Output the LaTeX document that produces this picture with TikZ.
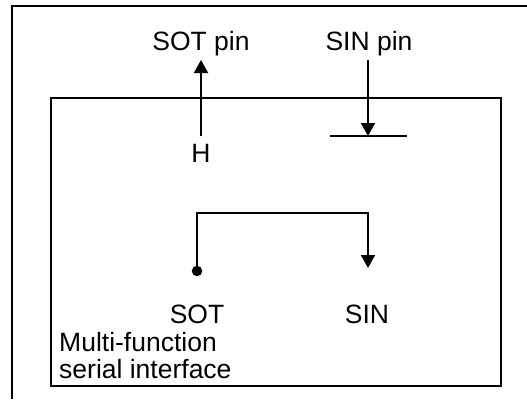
\documentclass[tikz,border=0pt]{standalone}
\usepackage{fontspec}
\setmainfont{Liberation Sans}
\usetikzlibrary{arrows.meta}
\begin{document}
\begin{tikzpicture}[
  x=1pt, y=-1pt,
  every node/.style={font=\fontsize{26.5}{31}\selectfont, inner sep=0pt},
  frameline/.style={line width=2.4pt},
  sigline/.style={line width=2pt, -{Triangle[width=14pt,length=13pt]}},
  pinlabel/.style={anchor=base},
  dotnode/.style={circle, fill, minimum size=10.5pt}
]
\useasboundingbox (0,0) rectangle (527,399);

% Outer frame (open to the right and bottom)
\draw[frameline] (527,6) -- (12,6) -- (12,399);

% Interface block
\draw[line width=2pt] (51,98) rectangle (501,386);

% Pin labels
\node[pinlabel] (sotpin) at (201,50) {SOT pin};
\node[pinlabel] (sinpin) at (369,50) {SIN pin};
\node[pinlabel] (hlvl)   at (201,162) {H};

% SOT pin driven high
\coordinate (sotTail) at (201,136);
\coordinate (sotTip)  at (201,60);
\draw[sigline] (sotTail) -- (sotTip);

% SIN pin input bar
\coordinate (barL) at (330,136);
\coordinate (barR) at (407,136);
\coordinate (sinTop) at (368,60);
\coordinate (sinBar) at (368,136);
\draw[line width=2pt] (barL) -- (barR);
\draw[sigline] (sinTop) -- (sinBar);

% Internal loop SOT -> SIN
\node[dotnode] (sotdot) at (197,271) {};
\coordinate (loopR) at (368,213);
\coordinate (sinIn) at (368,268);
\draw[sigline] (sotdot.center) |- (loopR) -- (sinIn);

% Signal names
\node[pinlabel] (sotname) at (197,323) {SOT};
\node[pinlabel] (sinname) at (367,323) {SIN};

% Block name
\node[anchor=base west, align=left] (mfsi) at (59,351) {Multi-function};
\node[anchor=base west] (mfsi2) at (59,378) {serial interface};
\end{tikzpicture}
\end{document}
